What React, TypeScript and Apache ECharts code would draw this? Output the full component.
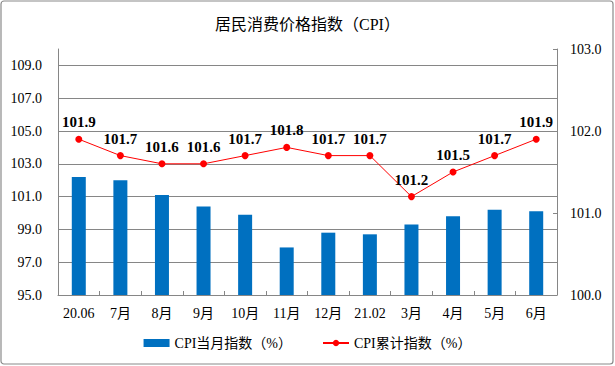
import React, { useEffect, useRef } from "react";
import * as echarts from "echarts";

const categories = ["20.06", "7月", "8月", "9月", "10月", "11月", "12月", "21.02", "3月", "4月", "5月", "6月"];
const monthlyCPI = [102.2, 102.0, 101.1, 100.4, 99.9, 97.9, 98.8, 98.7, 99.3, 99.8, 100.2, 100.1];
const cumulativeCPI = [101.9, 101.7, 101.6, 101.6, 101.7, 101.8, 101.7, 101.7, 101.2, 101.5, 101.7, 101.9];
const leftTickLabels = [95, 97, 99, 101, 103, 105, 107, 109];
const rightTickLabels = [100, 101, 102, 103];

const SERIF = "'Liberation Serif', 'Times New Roman', 'Noto Sans CJK SC', serif";

export default function App() {
  const ref = useRef<HTMLDivElement>(null);
  useEffect(() => {
    if (!ref.current) return;
    const chart = echarts.init(ref.current, undefined, { renderer: "svg" });
    chart.setOption({
      animation: false,
      backgroundColor: "#fff",
      textStyle: { fontFamily: SERIF },
      title: {
        text: "居民消费价格指数（CPI）",
        left: "center",
        top: 11,
        textStyle: { fontFamily: SERIF, fontSize: 16, fontWeight: "normal", color: "#000" },
      },
      graphic: [
        {
          type: "rect",
          shape: { x: 1, y: 1, width: 612, height: 363, r: 3 },
          style: { fill: "none", stroke: "#8a8a8a", lineWidth: 1.2 },
          silent: true,
        },
      ],
      legend: {
        bottom: 11,
        left: "center",
        itemWidth: 26,
        itemHeight: 8,
        itemGap: 30,
        textStyle: { fontFamily: SERIF, fontSize: 14, color: "#000" },
        data: [
          { name: "CPI当月指数（%）", icon: "rect" },
          { name: "CPI累计指数（%）" },
        ],
      },
      grid: { left: 58, right: 58, top: 49, bottom: 71 },
      xAxis: {
        type: "category",
        data: categories,
        axisLine: { lineStyle: { color: "#868686", width: 1 } },
        axisTick: { show: true, inside: true, length: 4, alignWithLabel: false, lineStyle: { color: "#868686" } },
        axisLabel: { fontFamily: SERIF, fontSize: 14, color: "#000", margin: 11, interval: 0 },
      },
      yAxis: [
        {
          type: "value",
          min: 95,
          max: 110,
          interval: 1,
          axisLine: { show: true, lineStyle: { color: "#868686" } },
          axisTick: { show: false },
          axisLabel: {
            customValues: leftTickLabels,
            fontFamily: SERIF,
            fontSize: 14,
            color: "#000",
            margin: 16,
            formatter: (v: number) => v.toFixed(1),
          },
          splitLine: {
            show: true,
            showMinLine: true,
            showMaxLine: true,
            lineStyle: { color: ["#868686", "rgba(0,0,0,0)"], width: 1 },
          },
        },
        {
          type: "value",
          min: 100,
          max: 103,
          interval: 1,
          position: "right",
          axisLine: { show: true, lineStyle: { color: "#868686" } },
          axisTick: { show: true, inside: true, length: 4, lineStyle: { color: "#868686" } },
          axisLabel: {
            customValues: rightTickLabels,
            fontFamily: SERIF,
            fontSize: 14,
            color: "#000",
            margin: 13,
            formatter: (v: number) => v.toFixed(1),
          },
          splitLine: { show: false },
        },
      ],
      series: [
        {
          name: "CPI当月指数（%）",
          type: "bar",
          yAxisIndex: 0,
          data: monthlyCPI,
          barWidth: 14,
          itemStyle: { color: "#0070C0" },
        },
        {
          name: "CPI累计指数（%）",
          type: "line",
          yAxisIndex: 1,
          data: cumulativeCPI,
          symbol: "circle",
          symbolSize: 7,
          lineStyle: { color: "#FF0000", width: 1 },
          itemStyle: { color: "#FF0000" },
          label: {
            show: true,
            position: "top",
            distance: 6,
            fontFamily: SERIF,
            fontSize: 15,
            fontWeight: "bold",
            color: "#000",
            formatter: (p: any) => Number(p.value).toFixed(1),
          },
        },
      ],
    });
    return () => chart.dispose();
  }, []);
  return <div ref={ref} style={{ position: "fixed", left: 0, top: 0, width: 615, height: 366 }} />;
}
